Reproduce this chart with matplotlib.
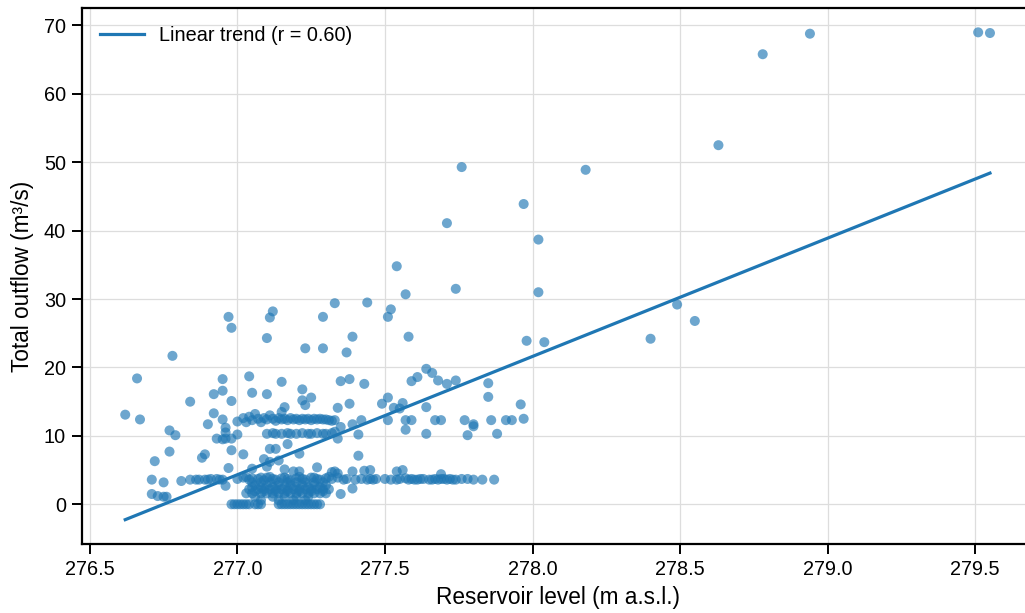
import numpy as np
import matplotlib
matplotlib.use("Agg")
import matplotlib.pyplot as plt

# ---- data: reservoir level (m a.s.l.) and total outflow (m3/s) ----
# sparse high-flow points
lvl_high = [279.55, 279.51, 278.94, 278.78, 278.63, 278.18, 277.76, 277.97, 277.71, 278.02,
            277.54, 277.74, 277.57, 278.02, 277.44, 277.33, 277.52, 277.51, 278.49, 278.55,
            278.40, 277.98, 278.04, 277.58, 277.39, 277.29, 277.23, 277.37, 276.97, 276.98,
            277.12, 277.11, 277.10, 277.29, 276.78]
flow_high = [68.9, 69.0, 68.8, 65.8, 52.5, 48.9, 49.3, 43.9, 41.1, 38.7,
             34.8, 31.5, 30.7, 31.0, 29.5, 29.4, 28.5, 27.4, 29.2, 26.8,
             24.2, 23.9, 23.7, 24.5, 24.5, 22.8, 22.8, 22.2, 27.4, 25.8,
             28.2, 27.3, 24.3, 27.4, 21.7]

# mid-range scatter (about 13-20 m3/s)
lvl_mid = [276.66, 276.62, 276.67, 276.84, 276.92, 276.95, 276.95, 276.98, 276.92, 277.04,
           277.05, 277.10, 277.15, 277.22, 277.25, 277.23, 277.16, 277.15, 277.35, 277.38,
           277.43, 277.38, 277.34, 277.49, 277.51, 277.53, 277.56, 277.55, 277.59, 277.61,
           277.64, 277.66, 277.68, 277.71, 277.74, 277.85, 277.85, 277.96, 277.64, 277.22]
flow_mid = [18.4, 13.1, 12.4, 15.0, 16.1, 18.3, 16.6, 15.1, 13.3, 18.7,
            16.3, 16.1, 17.9, 16.8, 15.6, 14.5, 14.2, 13.5, 18.0, 18.3,
            17.6, 14.7, 14.1, 14.7, 15.6, 14.1, 14.8, 14.0, 18.0, 18.6,
            19.8, 19.2, 18.1, 17.6, 18.1, 17.7, 15.7, 14.6, 14.2, 15.2]

# band around 12.3 m3/s
lvl_b12 = [276.90, 276.95, 277.00, 277.02, 277.03, 277.04, 277.05, 277.06, 277.07, 277.08,
           277.09, 277.10, 277.11, 277.12, 277.13, 277.14, 277.15, 277.16, 277.17, 277.18,
           277.19, 277.20, 277.21, 277.22, 277.23, 277.24, 277.25, 277.26, 277.27, 277.28,
           277.29, 277.30, 277.31, 277.32, 277.33, 277.35, 277.39, 277.42, 277.51, 277.57,
           277.59, 277.67, 277.69, 277.77, 277.80, 277.80, 277.86, 277.91, 277.93, 277.97]
flow_b12 = [11.7, 12.4, 12.1, 12.6, 12.0, 12.8, 12.3, 13.2, 12.5, 12.0,
            12.6, 12.4, 13.0, 12.5, 12.2, 12.6, 12.4, 12.5, 12.3, 12.6,
            12.4, 12.5, 12.3, 12.5, 12.4, 12.5, 12.3, 12.5, 12.4, 12.5,
            12.4, 12.4, 12.3, 12.2, 12.3, 11.3, 11.7, 12.3, 12.3, 12.3,
            12.3, 12.3, 12.3, 12.3, 11.7, 11.4, 12.3, 12.3, 12.3, 12.5]

# band around 10.3 m3/s
lvl_b10 = [276.96, 276.96, 276.93, 276.95, 276.96, 276.98, 277.00, 277.10, 277.12, 277.13,
           277.15, 277.17, 277.18, 277.20, 277.22, 277.24, 277.25, 277.27, 277.29, 277.30,
           277.32, 277.33, 277.34, 277.41, 277.57, 277.64, 277.78, 277.88, 276.77, 276.79]
flow_b10 = [11.2, 10.5, 9.6, 9.5, 9.6, 9.6, 10.2, 10.3, 10.4, 10.3,
            10.3, 10.4, 10.3, 10.3, 10.4, 10.3, 10.3, 10.4, 10.3, 10.3,
            10.4, 10.6, 9.6, 10.2, 10.9, 10.3, 10.1, 10.3, 10.8, 10.1]

# scattered 4.5-9 m3/s
lvl_b6 = [276.77, 276.72, 276.89, 276.88, 276.98, 277.02, 276.97, 277.17, 277.11, 277.13,
          277.21, 277.09, 277.11, 277.14, 277.05, 277.16, 277.19, 277.21, 277.27, 277.34,
          277.32, 277.41, 277.33, 277.39, 277.43, 277.45, 277.54, 277.56, 277.69, 277.10]
flow_b6 = [7.7, 6.3, 7.3, 6.8, 7.9, 7.3, 5.3, 8.8, 8.1, 8.1,
           7.4, 6.6, 6.2, 6.4, 5.2, 5.1, 4.8, 4.8, 5.4, 4.5,
           4.7, 7.1, 4.8, 4.8, 4.9, 5.0, 4.8, 5.0, 4.4, 5.5]

# band around 3.7 m3/s
lvl_b4 = [276.71, 276.75, 276.81, 276.84, 276.86, 276.87, 276.89, 276.90, 276.91, 276.93,
          276.94, 276.95, 276.96, 277.00, 277.02, 277.04, 277.05, 277.07, 277.09, 277.10,
          277.12, 277.13, 277.15, 277.17, 277.18, 277.20, 277.22, 277.23, 277.25, 277.27,
          277.28, 277.30, 277.32, 277.36, 277.37, 277.40, 277.42, 277.44, 277.45, 277.46,
          277.47, 277.54, 277.55, 277.58, 277.59, 277.61, 277.62, 277.65, 277.67, 277.68,
          277.69, 277.71, 277.72, 277.74, 277.76, 277.80, 277.87,
          277.50, 277.52, 277.57, 277.60, 277.63, 277.66, 277.70, 277.73, 277.78, 277.83,
          277.03, 277.08, 277.11, 277.16, 277.21, 277.26, 277.31, 277.34]
flow_b4 = [3.6, 3.2, 3.4, 3.6, 3.6, 3.6, 3.6, 3.6, 3.7, 3.7,
           3.6, 3.6, 2.7, 3.7, 3.9, 3.6, 3.8, 3.7, 3.5, 3.9,
           3.7, 3.6, 3.8, 3.7, 3.5, 3.8, 3.7, 3.6, 3.9, 3.7,
           3.6, 3.8, 3.7, 3.6, 3.7, 3.6, 3.7, 3.6, 3.7, 3.6,
           3.7, 3.6, 3.7, 3.6, 3.7, 3.6, 3.7, 3.6, 3.7, 3.6,
           3.7, 3.6, 3.7, 3.6, 3.7, 3.6, 3.6,
           3.7, 3.6, 3.8, 3.6, 3.7, 3.6, 3.7, 3.6, 3.7, 3.6,
           4.0, 3.9, 4.0, 3.9, 4.0, 3.9, 4.0, 3.9]

# dense cluster 0.5-3.3 m3/s
lvl_b2 = [277.06, 277.10, 277.14, 277.18, 277.22, 277.26, 277.30,
          277.04, 277.07, 277.09, 277.11, 277.13, 277.15, 277.17, 277.19, 277.21, 277.23,
          277.25, 277.27, 277.29, 277.31,
          277.03, 277.05, 277.08, 277.10, 277.12, 277.14, 277.16, 277.18, 277.20, 277.22,
          277.24, 277.26, 277.28, 277.30,
          277.06, 277.12, 277.16, 277.20, 277.24,
          276.71, 276.73, 276.75, 276.76, 277.35, 277.39,
          277.05, 277.08, 277.11, 277.14, 277.17, 277.20, 277.23, 277.26, 277.29,
          277.05, 277.08, 277.12, 277.16, 277.20, 277.24, 277.28,
          277.06, 277.09, 277.13, 277.17, 277.21, 277.25, 277.29,
          277.08, 277.14, 277.19, 277.23]
flow_b2 = [2.8, 2.8, 2.8, 2.8, 2.8, 2.8, 2.8,
           2.2, 2.2, 2.2, 2.2, 2.2, 2.2, 2.2, 2.2, 2.2, 2.2,
           2.2, 2.2, 2.2, 2.2,
           1.6, 1.6, 1.6, 1.6, 1.6, 1.6, 1.6, 1.6, 1.6, 1.6,
           1.6, 1.6, 1.6, 1.6,
           1.1, 1.1, 1.1, 1.1, 1.1,
           1.5, 1.2, 1.1, 1.1, 1.5, 2.3,
           3.2, 3.2, 3.2, 3.2, 3.2, 3.2, 3.2, 3.2, 3.2,
           2.5, 2.5, 2.5, 2.5, 2.5, 2.5, 2.5,
           1.9, 1.9, 1.9, 1.9, 1.9, 1.9, 1.9,
           0.6, 0.6, 0.6, 0.6]

# zero-outflow band
lvl_b0 = [276.98, 276.99, 277.01, 277.02, 277.04, 277.06, 277.07, 277.08, 277.14, 277.15,
          277.17, 277.18, 277.19, 277.21, 277.22, 277.24, 277.25, 277.26, 277.27, 277.28,
          277.00, 277.03, 277.16, 277.20, 277.23]
flow_b0 = [0.0] * len(lvl_b0)

x_ticks = [276.5, 277.0, 277.5, 278.0, 278.5, 279.0, 279.5]
y_ticks = [0, 10, 20, 30, 40, 50, 60, 70]
legend_label = "Linear trend (r = 0.60)"

level = np.array(lvl_high + lvl_mid + lvl_b12 + lvl_b10 + lvl_b6 + lvl_b4 + lvl_b2 + lvl_b0)
outflow = np.array(flow_high + flow_mid + flow_b12 + flow_b10 + flow_b6 + flow_b4 + flow_b2 + flow_b0)

plt.rcParams['font.family'] = ['Liberation Sans', 'DejaVu Sans']

fig = plt.figure(figsize=(10.25, 6.13), dpi=100)
ax = fig.add_axes([0.080, 0.1125, 0.928, 0.8745])

blue = "#1f77b4"
ax.scatter(level, outflow, s=52, color=blue, alpha=0.65, edgecolors='none', zorder=3)

slope, intercept = np.polyfit(level, outflow, 1)
xs = np.array([level.min(), level.max()])
ax.plot(xs, slope * xs + intercept, color=blue, lw=2.3, label=legend_label, zorder=4)

ax.set_xticks(x_ticks)
ax.set_yticks(y_ticks)
ax.grid(True, color='#dddddd', lw=0.9, zorder=0)
ax.set_axisbelow(True)
for side in ['left', 'bottom', 'top', 'right']:
    ax.spines[side].set_color('black')
    ax.spines[side].set_linewidth(1.6)
ax.tick_params(axis='both', direction='out', length=7, width=1.4, pad=4.5,
               labelsize=14.3, colors='black')
ax.set_xlabel("Reservoir level (m a.s.l.)", fontsize=16.3, labelpad=5)
ax.set_ylabel("Total outflow (m\u00b3/s)", fontsize=16.3, labelpad=7)
ax.legend(loc='upper left', fontsize=14.3, frameon=False, handlelength=2.2,
          borderaxespad=0.5)

fig.savefig("out.png", dpi=100)
